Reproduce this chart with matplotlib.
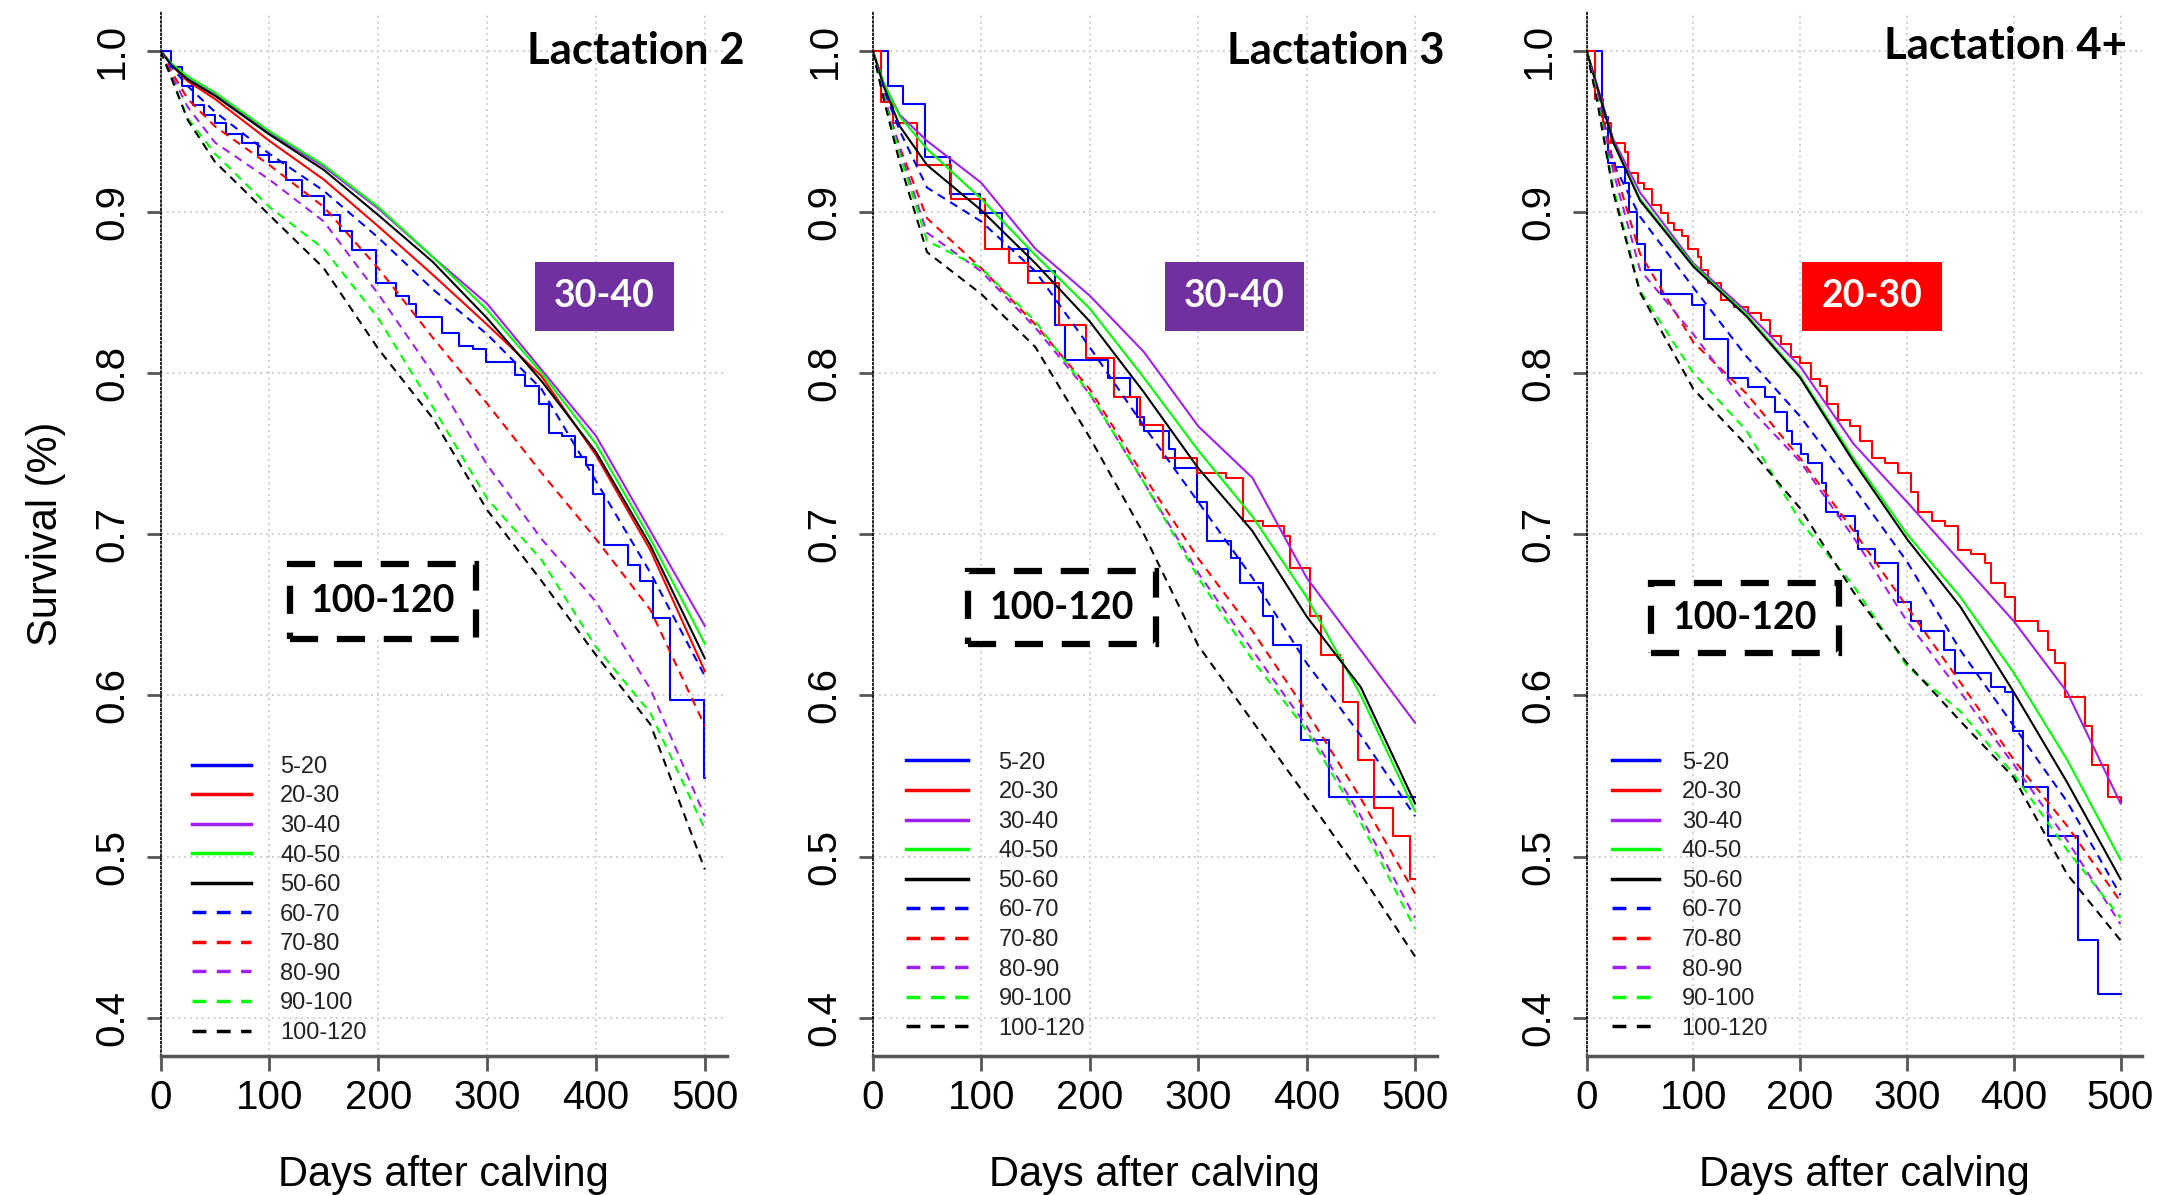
import matplotlib
matplotlib.use("Agg")
import matplotlib.pyplot as plt
from matplotlib.patches import Rectangle

plt.rcParams['font.family'] = ['Liberation Sans', 'DejaVu Sans']

groups = ["5-20", "20-30", "30-40", "40-50", "50-60",
          "60-70", "70-80", "80-90", "90-100", "100-120"]
line_colors = ['#0000FF', '#FF0000', '#A020F0', '#00FF00', '#000000'] * 2
dashed = [False] * 5 + [True] * 5

days = [0, 10, 25, 50, 100, 150, 200, 250, 300, 350, 400, 450, 500]

# ---- Lactation 2
lac2_5_20_days = [0, 10, 20, 30, 40, 50, 60, 75, 90, 100, 115, 130, 150, 165, 176, 198, 216, 228, 235, 259,
                  274, 287, 299, 326, 335, 348, 357, 369, 381, 391, 397, 407, 429, 440, 452, 468, 499, 500]
lac2_5_20 = [1, .99, .978, .966, .96, .955, .948, .943, .935, .931, .92, .91, .898, .888, .876, .856, .848, .843, .835, .825,
             .817, .815, .807, .799, .792, .781, .763, .761, .748, .743, .725, .693, .681, .671, .648, .597, .549, .549]
lac2_20_30 = [1, 0.991, 0.981, 0.970, 0.944, 0.920, 0.891, 0.861, 0.830, 0.798, 0.749, 0.690, 0.615]
lac2_30_40 = [1, 0.992, 0.983, 0.973, 0.949, 0.928, 0.902, 0.872, 0.843, 0.802, 0.761, 0.702, 0.643]
lac2_40_50 = [1, 0.992, 0.984, 0.974, 0.950, 0.929, 0.903, 0.872, 0.839, 0.800, 0.756, 0.697, 0.632]
lac2_50_60 = [1, 0.991, 0.982, 0.972, 0.948, 0.926, 0.898, 0.869, 0.834, 0.795, 0.751, 0.693, 0.623]
lac2_60_70 = [1, 0.990, 0.978, 0.962, 0.936, 0.913, 0.884, 0.852, 0.824, 0.790, 0.733, 0.676, 0.612]
lac2_70_80 = [1, 0.987, 0.970, 0.953, 0.929, 0.903, 0.865, 0.822, 0.781, 0.738, 0.697, 0.653, 0.581]
lac2_80_90 = [1, 0.985, 0.965, 0.943, 0.920, 0.894, 0.849, 0.800, 0.743, 0.697, 0.658, 0.604, 0.525]
lac2_90_100 = [1, 0.983, 0.958, 0.936, 0.903, 0.877, 0.834, 0.779, 0.722, 0.684, 0.630, 0.589, 0.517]
lac2_100_120 = [1, 0.983, 0.957, 0.931, 0.898, 0.865, 0.815, 0.772, 0.715, 0.671, 0.625, 0.582, 0.492]

# ---- Lactation 3
lac3_5_20_days = [0, 14, 28, 48, 71, 99, 119, 143, 168, 177, 217, 237, 244, 250, 273, 279, 299, 308, 330, 339,
                  360, 369, 395, 421, 500]
lac3_5_20 = [1, .978, .967, .934, .911, .899, .877, .863, .83, .808, .797, .785, .773, .764, .753, .741, .72, .696, .685, .67,
             .649, .631, .572, .537, .537]
lac3_20_30_days = [0, 8, 19, 41, 72, 103, 126, 143, 172, 197, 222, 246, 268, 299, 326, 341, 360, 379, 385, 403,
                   413, 431, 434, 447, 462, 480, 495, 500]
lac3_20_30 = [1, .968, .955, .929, .908, .877, .868, .856, .83, .809, .785, .768, .747, .738, .735, .708, .705, .699, .679, .649,
              .625, .622, .596, .56, .53, .513, .486, .486]
lac3_30_40 = [1, 0.980, 0.960, 0.944, 0.918, 0.877, 0.848, 0.813, 0.767, 0.735, 0.673, 0.628, 0.583]
lac3_40_50 = [1, 0.980, 0.959, 0.939, 0.908, 0.873, 0.840, 0.797, 0.752, 0.711, 0.661, 0.600, 0.528]
lac3_50_60 = [1, 0.978, 0.953, 0.929, 0.901, 0.868, 0.832, 0.788, 0.741, 0.702, 0.649, 0.605, 0.533]
lac3_60_70 = [1, 0.976, 0.950, 0.915, 0.894, 0.863, 0.816, 0.767, 0.720, 0.673, 0.620, 0.575, 0.525]
lac3_70_80 = [1, 0.972, 0.940, 0.896, 0.865, 0.830, 0.790, 0.736, 0.685, 0.640, 0.590, 0.536, 0.477]
lac3_80_90 = [1, 0.972, 0.938, 0.887, 0.863, 0.828, 0.787, 0.732, 0.676, 0.628, 0.581, 0.525, 0.462]
lac3_90_100 = [1, 0.971, 0.935, 0.882, 0.865, 0.832, 0.787, 0.732, 0.673, 0.622, 0.578, 0.521, 0.455]
lac3_100_120 = [1, 0.970, 0.930, 0.875, 0.849, 0.816, 0.760, 0.700, 0.631, 0.584, 0.537, 0.489, 0.438]

# ---- Lactation 4+
lac4_5_20_days = [0, 10, 14, 20, 27, 36, 40, 47, 55, 70, 99, 110, 132, 151, 167, 176, 188, 192, 201, 207,
                  220, 224, 235, 251, 254, 270, 292, 304, 313, 335, 345, 379, 392, 399, 409, 432, 460, 479, 500]
lac4_5_20 = [1, 1, .959, .93, .928, .918, .90, .88, .864, .849, .842, .821, .797, .791, .785, .776, .764, .756, .75, .744,
             .732, .714, .711, .702, .691, .682, .658, .646, .64, .628, .614, .605, .602, .578, .543, .513, .448, .415, .415]
lac4_20_30_days = [0, 8, 15, 23, 36, 39, 48, 54, 61, 70, 76, 82, 89, 95, 104, 107, 114, 126, 138, 151,
                   163, 172, 182, 191, 200, 210, 219, 225, 235, 247, 256, 267, 279, 292, 304, 310, 323, 336, 348, 360,
                   373, 379, 392, 401, 423, 432, 439, 448, 467, 473, 488, 500]
lac4_20_30 = [1, .97, .955, .943, .937, .924, .918, .914, .904, .899, .893, .889, .885, .877, .872, .864, .856, .845, .841, .837,
              .833, .823, .818, .81, .806, .796, .792, .781, .771, .767, .758, .747, .744, .738, .726, .714, .708, .705, .69, .688,
              .682, .67, .661, .646, .64, .628, .62, .599, .581, .557, .537, .534]
lac4_30_40 = [1, 0.978, 0.945, 0.912, 0.868, 0.838, 0.804, 0.756, 0.720, 0.683, 0.646, 0.602, 0.533]
lac4_40_50 = [1, 0.977, 0.943, 0.908, 0.867, 0.836, 0.798, 0.747, 0.700, 0.661, 0.614, 0.560, 0.498]
lac4_50_60 = [1, 0.977, 0.943, 0.907, 0.866, 0.835, 0.797, 0.745, 0.697, 0.655, 0.602, 0.546, 0.486]
lac4_60_70 = [1, 0.975, 0.930, 0.897, 0.853, 0.810, 0.773, 0.729, 0.683, 0.628, 0.581, 0.534, 0.476]
lac4_70_80 = [1, 0.973, 0.930, 0.874, 0.819, 0.787, 0.747, 0.702, 0.655, 0.608, 0.560, 0.519, 0.472]
lac4_80_90 = [1, 0.972, 0.925, 0.864, 0.824, 0.780, 0.745, 0.698, 0.646, 0.602, 0.557, 0.510, 0.458]
lac4_90_100 = [1, 0.970, 0.915, 0.851, 0.800, 0.764, 0.708, 0.668, 0.618, 0.590, 0.551, 0.504, 0.462]
lac4_100_120 = [1, 0.968, 0.912, 0.850, 0.790, 0.755, 0.716, 0.664, 0.620, 0.584, 0.549, 0.489, 0.448]

titles = ["Lactation 2", "Lactation 3", "Lactation 4+"]
best_labels = ["30-40", "30-40", "20-30"]
best_colors = ['#7030A0', '#7030A0', '#FF0000']
worst_label = "100-120"

panels = [
    dict(curves=[(lac2_5_20_days, lac2_5_20, True), (days, lac2_20_30, False), (days, lac2_30_40, False),
                 (days, lac2_40_50, False), (days, lac2_50_60, False), (days, lac2_60_70, False),
                 (days, lac2_70_80, False), (days, lac2_80_90, False), (days, lac2_90_100, False),
                 (days, lac2_100_120, False)],
         pos=[0.074, 0.116, 0.261, 0.874], title_xy=(537, 1.0),
         best_box=(344, 472), worst_box=(119, 290, 0.6352, 0.6815),
         leg=(0.055, 0.012, 2.52, 1.23)),
    dict(curves=[(lac3_5_20_days, lac3_5_20, True), (lac3_20_30_days, lac3_20_30, True), (days, lac3_30_40, False),
                 (days, lac3_40_50, False), (days, lac3_50_60, False), (days, lac3_60_70, False),
                 (days, lac3_70_80, False), (days, lac3_80_90, False), (days, lac3_90_100, False),
                 (days, lac3_100_120, False)],
         pos=[0.4024, 0.116, 0.260, 0.874], title_xy=(527, 1.0),
         best_box=(269, 398), worst_box=(88, 261, 0.632, 0.677),
         leg=(0.058, 0.016, 2.63, 1.31)),
    dict(curves=[(lac4_5_20_days, lac4_5_20, True), (lac4_20_30_days, lac4_20_30, True), (days, lac4_30_40, False),
                 (days, lac4_40_50, False), (days, lac4_50_60, False), (days, lac4_60_70, False),
                 (days, lac4_70_80, False), (days, lac4_80_90, False), (days, lac4_90_100, False),
                 (days, lac4_100_120, False)],
         pos=[0.7315, 0.116, 0.256, 0.874], title_xy=(506, 1.003),
         best_box=(202, 333), worst_box=(60, 236, 0.626, 0.670),
         leg=(0.045, 0.016, 2.0, 0.97)),
]

box_font = ['Lato', 'DejaVu Sans']
yticks = [0.4, 0.5, 0.6, 0.7, 0.8, 0.9, 1.0]

fig = plt.figure(figsize=(21.69, 11.95), dpi=100)

for i, p in enumerate(panels):
    ax = fig.add_axes(p['pos'])
    for (x, y, step), lab, c, d in zip(p['curves'], groups, line_colors, dashed):
        ax.plot(x, y, color=c, lw=1.5, label=lab,
                linestyle=(0, (4, 3)) if d else '-',
                drawstyle='steps-post' if step else 'default')

    ax.set_xlim(0, 520)
    ax.set_ylim(0.376, 1.024)
    ax.set_xticks(range(0, 501, 100))
    ax.set_yticks(yticks)
    ax.set_yticklabels([f"{v:.1f}" for v in yticks])
    ax.grid(True, color='#cfcfcf', linestyle=(0, (1, 2)), linewidth=1.4)
    ax.set_axisbelow(True)

    for s in ['top', 'right']:
        ax.spines[s].set_visible(False)
    ax.spines['left'].set_linestyle((0, (1, 1.5)))
    ax.spines['left'].set_linewidth(1.2)
    ax.spines['left'].set_color('black')
    ax.spines['bottom'].set_color('#555555')
    ax.spines['bottom'].set_linewidth(2.5)

    ax.tick_params(axis='y', direction='out', length=10, width=2, color='#555555',
                   labelsize=29, pad=11, labelrotation=90)
    ax.tick_params(axis='x', direction='out', length=11, width=2, color='#555555',
                   labelsize=29, pad=5)
    for t in ax.get_yticklabels():
        t.set_va('center')

    ax.set_xlabel("Days after calving", fontsize=30, labelpad=28)
    if i == 0:
        ax.set_ylabel("Survival (%)", fontsize=30, labelpad=20)

    lx, ly, hl, hp = p['leg']
    leg = ax.legend(loc='lower left', bbox_to_anchor=(lx, ly), frameon=False,
                    prop=dict(family=['Liberation Sans', 'DejaVu Sans'], size=17),
                    handlelength=hl, handletextpad=hp, labelspacing=0.32,
                    borderpad=0, borderaxespad=0)
    for t in leg.get_texts():
        t.set_color('#222222')
    for ln in leg.get_lines():
        ln.set_linewidth(2.5)

    tx, ty = p['title_xy']
    ax.text(tx, ty, titles[i], ha='right', va='center', fontsize=31.5,
            fontweight='bold', family=box_font, zorder=7)

    bx0, bx1 = p['best_box']
    ax.add_patch(Rectangle((bx0, 0.826), bx1 - bx0, 0.869 - 0.826,
                           facecolor=best_colors[i], edgecolor='none', zorder=6))
    ax.text((bx0 + bx1) / 2, 0.8475, best_labels[i], ha='center', va='center',
            color='white', fontsize=27, fontweight='bold', family=box_font, zorder=7)

    wx0, wx1, wy0, wy1 = p['worst_box']
    ax.add_patch(Rectangle((wx0, wy0), wx1 - wx0, wy1 - wy0, facecolor='white',
                           edgecolor='black', lw=4.5, linestyle=(0, (4.5, 3)), zorder=6))
    ax.text((wx0 + wx1) / 2, (wy0 + wy1) / 2, worst_label, ha='center', va='center',
            color='black', fontsize=27, fontweight='bold', family=box_font, zorder=7)

fig.savefig("out.png", dpi=100)
